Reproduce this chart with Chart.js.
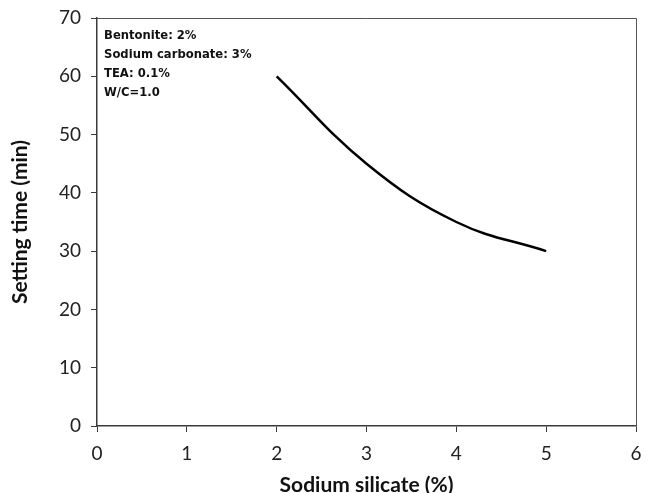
<!DOCTYPE html>
<html>
<head>
<meta charset="utf-8">
<script src="https://cdn.jsdelivr.net/npm/chart.js@4/dist/chart.umd.min.js"></script>
<style>
  html, body { margin: 0; padding: 0; background: #fff; }
  #wrap { width: 648px; height: 493px; }
</style>
</head>
<body>
<div id="wrap"><canvas id="settingChart"></canvas></div>
<script>
// Sodium silicate dosage (%) vs setting time (min)
const silicateDosage = [2, 3, 4, 5];
const settingTime = [60, 45, 35, 30];
const xTicks = [0, 1, 2, 3, 4, 5, 6];
const yTicks = [0, 10, 20, 30, 40, 50, 60, 70];
const mixNotes = ["Bentonite: 2%", "Sodium carbonate: 3%", "TEA: 0.1%", "W/C=1.0"];

const FONT = "Lato, 'Open Sans', sans-serif";
const AXIS_COLOR = '#3a3a3a';

// frame on top/right + mix note text in the corner
const framePlugin = {
    id: 'frame',
    afterDraw: function(chart) {
        const { ctx, chartArea: a } = chart;
        ctx.save();
        ctx.strokeStyle = '#555';
        ctx.lineWidth = 1;
        ctx.beginPath();
        ctx.moveTo(a.left, a.top + 0.5);
        ctx.lineTo(a.right + 0.5, a.top + 0.5);
        ctx.lineTo(a.right + 0.5, a.bottom);
        ctx.stroke();

        ctx.fillStyle = '#111';
        ctx.font = "bold 11.6px 'DejaVu Sans', sans-serif";
        ctx.textBaseline = 'middle';
        mixNotes.forEach(function(t, i) {
            ctx.fillText(t, a.left + 7, a.top + 18 + i * 19);
        });
        ctx.restore();
    }
};

new Chart(document.getElementById('settingChart'), {
    type: 'line',
    data: {
        datasets: [{
            data: silicateDosage.map(function(x, i) { return { x: x, y: settingTime[i] }; }),
            borderColor: '#000',
            borderWidth: 2.5,
            pointRadius: 0,
            tension: 0.4,
            fill: false
        }]
    },
    options: {
        responsive: true,
        maintainAspectRatio: false,
        animation: false,
        layout: { padding: { top: 18, right: 12, left: 10, bottom: -3 } },
        plugins: { legend: { display: false }, tooltip: { enabled: false } },
        scales: {
            x: {
                type: 'linear',
                min: 0, max: 6,
                afterBuildTicks: function(ax) { ax.ticks = xTicks.map(function(v) { return { value: v }; }); },
                afterFit: function(ax) { ax.paddingRight = 0; },
                grid: { drawOnChartArea: false, tickLength: 6, color: AXIS_COLOR },
                border: { color: AXIS_COLOR, width: 1.5 },
                ticks: { color: '#222', font: { family: FONT, size: 19, lineHeight: 1 }, padding: 12 },
                title: { display: true, text: 'Sodium silicate (%)', color: '#111',
                         font: { family: FONT, size: 21, weight: 'bold', lineHeight: 1 }, padding: { top: 0, bottom: 0 } }
            },
            y: {
                min: 0, max: 70,
                afterBuildTicks: function(ax) { ax.ticks = yTicks.map(function(v) { return { value: v }; }); },
                afterFit: function(ax) { ax.paddingTop = 0; },
                grid: { drawOnChartArea: false, tickLength: 6, color: AXIS_COLOR },
                border: { color: AXIS_COLOR, width: 1.5 },
                ticks: { color: '#222', font: { family: FONT, size: 19 }, padding: 10 },
                title: { display: true, text: 'Setting time (min)', color: '#111',
                         font: { family: FONT, size: 21, weight: 'bold', lineHeight: 1 }, padding: { top: 0, bottom: 18 } }
            }
        }
    },
    plugins: [framePlugin]
});
</script>
</body>
</html>
